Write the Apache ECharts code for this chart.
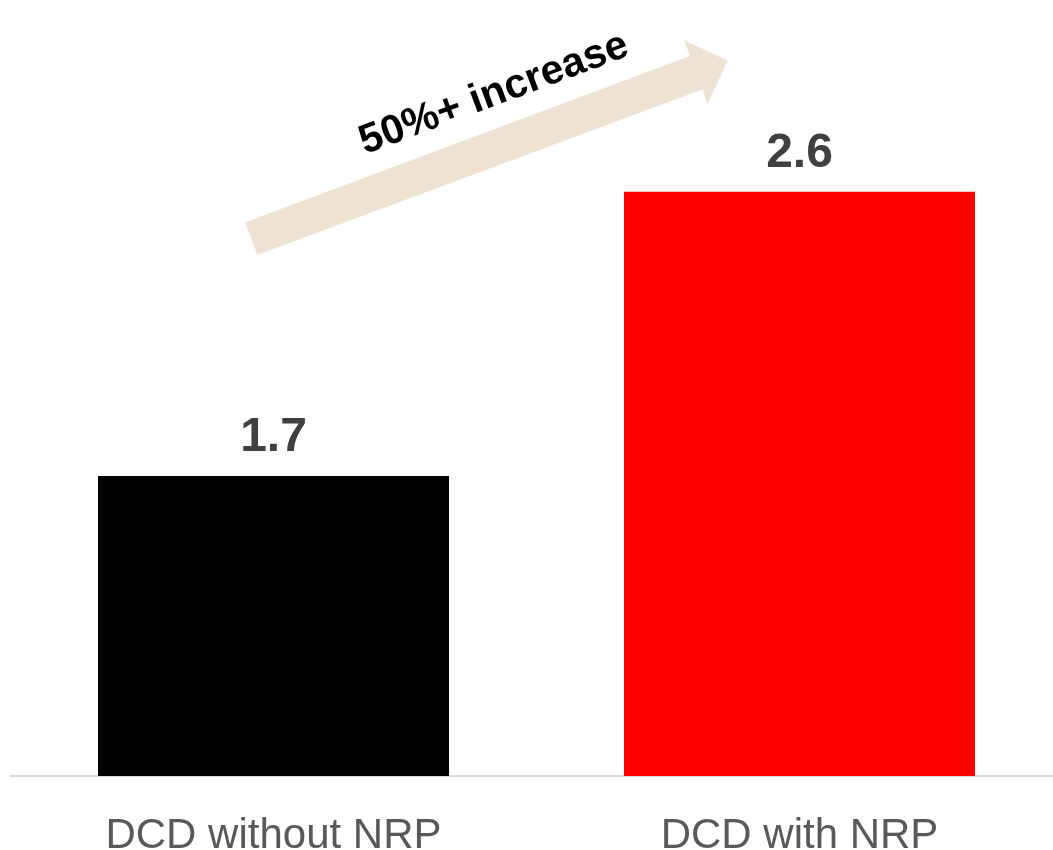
<!DOCTYPE html>
<html>
<head>
<meta charset="utf-8">
<script src="https://cdn.jsdelivr.net/npm/echarts@6/dist/echarts.min.js"></script>
<style>
html,body{margin:0;padding:0;background:#fff;overflow:hidden;}
#chart{width:1053px;height:850px;}
</style>
</head>
<body>
<div id="chart"></div>
<script>
const categories = ['DCD without NRP', 'DCD with NRP'];
const values = [1.7, 2.6];
const barColors = ['#000000', '#ff0000'];
const arrowText = '50%+ increase';

const FONT = "'Liberation Sans', Arial, Helvetica, sans-serif";
const chart = echarts.init(document.getElementById('chart'), null, {renderer: 'canvas'});

chart.setOption({
  animation: false,
  backgroundColor: '#ffffff',
  grid: {left: 10.5, width: 1052, top: 18, bottom: 74, containLabel: false, outerBoundsMode: 'none'},
  xAxis: {
    type: 'category',
    data: categories,
    axisLine: {show: true, lineStyle: {color: '#d9d9d9', width: 2}},
    axisTick: {show: false},
    axisLabel: {color: '#595959', fontSize: 42, fontFamily: FONT, margin: 39}
  },
  yAxis: {
    type: 'value',
    min: 0.75,
    max: 3.15,
    show: false,
    splitLine: {show: false}
  },
  series: [{
    type: 'bar',
    barWidth: 351,
    data: values.map((v, i) => ({value: v, itemStyle: {color: barColors[i]}})),
    label: {
      show: true,
      position: 'top',
      distance: 14,
      color: '#404040',
      fontSize: 48,
      fontWeight: 'bold',
      fontFamily: FONT,
      formatter: p => p.value.toFixed(1)
    }
  }],
  graphic: [
    {
      type: 'polygon',
      shape: {points: [[245.3, 222.3], [690, 56], [684, 40], [727.7, 60.7], [707.3, 104.3], [702.7, 89.3], [257.3, 255]]},
      style: {fill: '#eee3d2'},
      z: 1
    },
    {
      type: 'text',
      x: 494,
      y: 94,
      rotation: 0.358,
      style: {
        text: arrowText,
        x: 0, y: 0,
        align: 'center',
        verticalAlign: 'middle',
        fill: '#000000',
        font: 'bold 41px ' + FONT
      },
      z: 2
    }
  ]
});
</script>
</body>
</html>
